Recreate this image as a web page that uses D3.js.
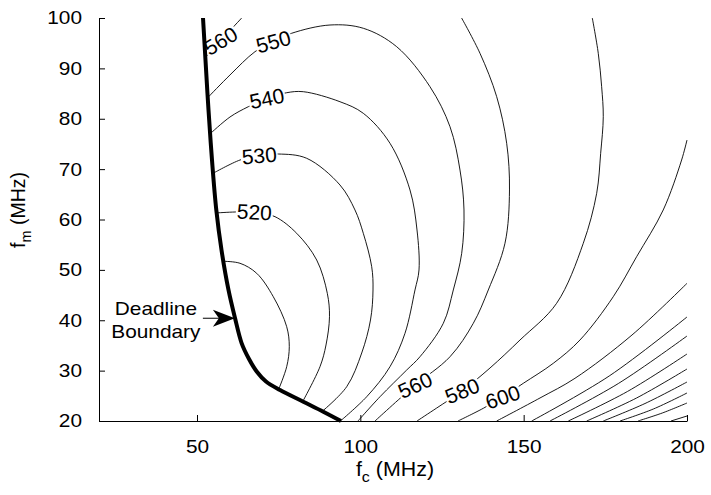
<!DOCTYPE html>
<html>
<head>
<meta charset="utf-8">
<script src="https://cdn.jsdelivr.net/npm/d3@7/dist/d3.min.js"></script>
<style>
  html, body { margin: 0; padding: 0; background: #fff; }
  svg text { font-family: "Liberation Sans", Arial, Helvetica, sans-serif; fill: #000; }
</style>
</head>
<body>
<svg id="chart" width="711" height="495"></svg>
<script>
// Tick values (MHz)
const fcTicks = [50, 100, 150, 200];
const fmTicks = [20, 30, 40, 50, 60, 70, 80, 90, 100];

// Deadline boundary, [fc, fm] in MHz
const deadline = [[51.84,100],[52.60,91.66],[53.52,81.74],[54.59,71.81],[55.91,61.89],[57.50,53.95],
  [59.64,46.01],[61.63,40.45],[63.68,35.42],[65.92,32.31],[68.27,29.83],[71.12,27.84],[75.41,26.15],
  [82.54,23.83],[88.66,21.85],[94.08,20]];

// Energy contour lines, [fc, fm] in MHz
const e510 = [[58.3,51.7],[63.16,51.31],[68.27,49.32],[73.36,44.67],[77.46,38.72],[78.25,34.75],[77.46,30.78],[75.0,26.3]];
const e520 = [[55.8,61.3],[61.63,61.49],[67.75,61.49],[73.88,60.56],[80.52,57.26],[86.64,51.96],[89.89,45.35],
  [90.56,40.70],[89.49,35.09],[87.65,30.78],[82.3,23.8]];
const e530 = [[55.0,69.2],[63.16,71.81],[68.98,72.70],[74.89,73.00],[83.58,72.15],[93.77,66.85],[98.36,61.89],
  [100.91,57.26],[103.48,50.63],[103.88,46.01],[103.11,40.05],[100.42,33.50],[95.83,26.81],[88.3,21.9]];
const e540 = [[54.0,77.0],[60.10,80.35],[65.70,82.39],[71.43,84.06],[77.46,85.17],[82.54,85.37],[93.77,83.38],
  [100.91,81.08],[109.08,75.13],[115.20,65.86],[117.35,57.92],[117.96,49.98],[116.73,46.01],[113.67,37.41],
  [109.08,30.78],[101.95,24.82],[93.9,20]];
const e550 = [[53.6,84.4],[60.10,88.69],[67.75,93.31],[73.26,95.30],[78.99,96.97],[90.71,98.61],[100.91,97.96],
  [111.13,94.30],[121.32,86.36],[127.45,78.42],[130.51,69.82],[131.73,61.89],[131.03,53.29],[128.46,46.01],
  [125.40,39.39],[118.26,32.76],[114.19,30.12],[106.02,24.82],[99.28,20]];
const e560a = [[52.9,92.4],[58.27,96.23],[63.68,100]];
const e560b = [[131.0,100],[136.63,92.99],[141.74,84.38],[144.80,75.13],[145.66,65.86],[144.28,55.28],
  [139.17,46.01],[134.58,39.39],[127.45,32.76],[116.21,26.81],[104.49,20]];
const e580 = [[171.01,100],[172.84,92.99],[173.87,86.36],[174.37,80.41],[173.57,73.14],[172.35,65.20],
  [168.25,55.28],[160.08,43.36],[148.88,36.08],[139.69,30.52],[131.12,25.96],[123.38,22.58],[117.35,20]];
const e600 = [[200,75.78],[198.35,71.81],[192.72,61.89],[184.58,52.62],[177.42,44.67],[167.24,36.08],
  [159.06,31.45],[149.88,27.48],[143.76,24.86],[137.64,22.52],[129.89,20]];
const e620 = [[200,47.33],[183.16,37.07],[165.71,28.48],[155.0,24.57],[141.74,20]];
const e640 = [[200,40.65],[176.18,28.93],[152.46,20]];
const e660 = [[200,36.87],[178.98,27.44],[158.06,20]];
const e680 = [[200,33.30],[181.78,25.86],[163.66,20]];
const e700 = [[200,30.32],[184.57,24.57],[169.29,20]];
const e720 = [[200,27.74],[187.14,23.47],[174.37,20]];
const e740 = [[200,25.56],[189.70,22.38],[179.49,20]];
const e760 = [[200,23.57],[192.45,21.59],[185.0,20]];
const e780 = [[200,20.99],[195.10,20]];

const contourLines = [e510, e520, e530, e540, e550, e560a, e560b, e580, e600,
  e620, e640, e660, e680, e700, e720, e740, e760, e780];

// Inline contour labels: text, the line it sits on, and where on that line
const labelTexts = ["560", "550", "540", "530", "520", "560", "580", "600"];
const labelLines = [e560a, e550, e540, e530, e520, e560b, e580, e600];
const labelAt = [[57.6,95.3],[73.4,95.3],[71.3,84.1],[69.1,72.7],[67.5,61.2],[117.0,27.0],[131.1,26.0],[143.4,25.0]];

// Annotation pointing at the boundary
const noteLines = ["Deadline", "Boundary"];
const arrowFrom = [51.8, 40.4];
const arrowTo = [61.6, 40.4];

const svg = d3.select("#chart");
const x = d3.scaleLinear().domain([20, 200]).range([99, 687]);
const y = d3.scaleLinear().domain([20, 100]).range([421, 18]);

const line = d3.line().x(d => x(d[0])).y(d => y(d[1])).curve(d3.curveCatmullRom.alpha(0.5));

// stretch horizontal text slightly wider than the font's natural width
function widen(sel, k) {
  sel.each(function () {
    const w = this.getComputedTextLength();
    d3.select(this).attr("textLength", w * k).attr("lengthAdjust", "spacingAndGlyphs");
  });
}

// contour lines
const gC = svg.append("g");
const paths = new Map();
contourLines.forEach(pts => {
  const p = gC.append("path").attr("d", line(pts))
    .attr("fill", "none").attr("stroke", "#000").attr("stroke-width", 0.9);
  paths.set(pts, p.node());
});

// inline labels, masking the line beneath them
const gL = svg.append("g");
labelTexts.forEach((t, i) => {
  const node = paths.get(labelLines[i]);
  const tx = x(labelAt[i][0]), ty = y(labelAt[i][1]);
  const L = node.getTotalLength();
  let best = 0, bestD = Infinity;
  for (let l = 0; l <= L; l += 0.5) {
    const p = node.getPointAtLength(l);
    const d = (p.x - tx) ** 2 + (p.y - ty) ** 2;
    if (d < bestD) { bestD = d; best = l; }
  }
  const p = node.getPointAtLength(best);
  const a = node.getPointAtLength(Math.max(0, best - 4));
  const b = node.getPointAtLength(Math.min(L, best + 4));
  // labels lean along a flattened tangent of their line
  let ang = Math.atan2((b.y - a.y) * 0.55, b.x - a.x) * 180 / Math.PI;
  if (ang > 90) ang -= 180;
  if (ang < -90) ang += 180;
  const g = gL.append("g").attr("transform", `translate(${p.x},${p.y}) rotate(${ang})`);
  const rect = g.append("rect").attr("fill", "#fff");
  const txt = g.append("text").attr("text-anchor", "middle").attr("dy", "0.36em")
    .attr("font-size", 21).text(t);
  const w = txt.node().getComputedTextLength();
  rect.attr("x", -w / 2 - 1).attr("y", -8.5).attr("width", w + 2).attr("height", 17);
});

// deadline boundary
svg.append("path").attr("d", line(deadline))
  .attr("fill", "none").attr("stroke", "#000").attr("stroke-width", 4).attr("stroke-linecap", "butt");

// axes, ticks pointing inward
const ax = svg.append("g").attr("transform", `translate(0,${y(20)})`)
  .call(d3.axisBottom(x).tickValues(fcTicks).tickSize(-6).tickSizeOuter(0).tickPadding(19));
const ay = svg.append("g").attr("transform", `translate(${x(20)},0)`)
  .call(d3.axisLeft(y).tickValues(fmTicks).tickSize(-6).tickSizeOuter(0).tickPadding(17));
[ax, ay].forEach(g => {
  g.select(".domain").attr("stroke", "#000").attr("stroke-width", 1);
  g.selectAll(".tick line").attr("stroke", "#000").attr("stroke-width", 1);
  g.selectAll(".tick text").attr("font-size", 18.6).attr("fill", "#000")
    .attr("font-family", "Liberation Sans, Arial, sans-serif");
});
widen(ax.selectAll(".tick text"), 1.12);
widen(ay.selectAll(".tick text"), 1.12);

// axis titles
const xt = svg.append("text").attr("x", 395).attr("y", 476)
  .attr("text-anchor", "middle").attr("font-size", 20);
xt.append("tspan").text("f");
xt.append("tspan").attr("font-size", 15).attr("dy", 6).text("c");
xt.append("tspan").attr("dy", -6).text(" (MHz)");
widen(xt, 1.07);

const yt = svg.append("text").attr("transform", "translate(25,210) rotate(-90)")
  .attr("text-anchor", "middle").attr("font-size", 19.5);
yt.append("tspan").text("f");
yt.append("tspan").attr("font-size", 14.5).attr("dy", 6).text("m");
yt.append("tspan").attr("dy", -6).text(" (MHz)");

// annotation
const ann = svg.append("g");
const ax0 = x(arrowFrom[0]), ax1 = x(arrowTo[0]), ay0 = y(arrowFrom[1]);
ann.append("line").attr("x1", ax0).attr("y1", ay0).attr("x2", ax1 - 10).attr("y2", ay0)
  .attr("stroke", "#000").attr("stroke-width", 1);
ann.append("path")
  .attr("d", `M${ax1},${ay0} L${ax1 - 22},${ay0 - 8.5} L${ax1 - 16},${ay0} L${ax1 - 22},${ay0 + 8.5} Z`)
  .attr("fill", "#000");
const noteX = ax0 - 47;
const nt = ann.selectAll("text.note").data(noteLines).join("text").attr("class", "note")
  .attr("x", noteX).attr("y", (d, i) => ay0 - 3 + i * 22.5)
  .attr("text-anchor", "middle").attr("font-size", 18.6).text(d => d);
widen(nt, 1.12);
</script>
</body>
</html>
